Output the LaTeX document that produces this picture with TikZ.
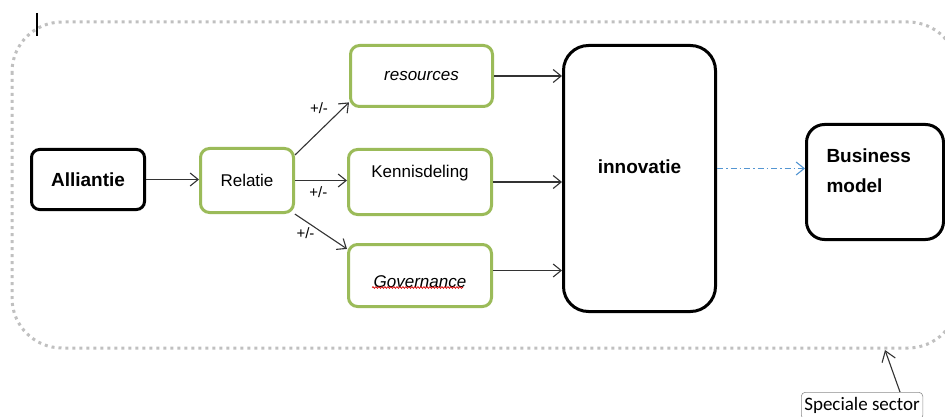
\documentclass[tikz,border=0pt]{standalone}
\usepackage{fontspec}
\setmainfont{Liberation Sans}
\newfontfamily\calibri{Carlito}
\usetikzlibrary{arrows.meta}
\usetikzlibrary{positioning}
\usetikzlibrary{decorations.pathmorphing}

\definecolor{olive}{RGB}{155,187,89}
\definecolor{linkblue}{RGB}{84,150,210}
\definecolor{framegray}{RGB}{192,192,192}

\tikzset {
  box/.style = {
    rectangle,
    inner sep = 0,
    fill = white,
    line width = 3pt
  },
  % light boxes around the alliance factors
  factor/.style = {
    box,
    draw = olive,
    rounded corners = 9pt,
    font = \fontsize{17}{20}\selectfont
  },
  % heavy boxes for the main concepts
  concept/.style = {
    box,
    draw = black,
    font = \fontsize{19}{30}\selectfont\bfseries
  },
  note/.style = {
    draw = black!45,
    line width = 0.6pt,
    rounded corners = 4pt,
    inner xsep = 3pt,
    inner ysep = 3pt,
    text height = 15pt,
    text depth = 6pt,
    anchor = north west,
    font = \fontsize{19}{22}\selectfont\calibri
  }
}
\tikzset {
  % path style with an open arrow head
  link/.style = {
    draw = black!80,
    line width = 1.1pt,
    -{Straight Barb[length=8pt,width=13pt]}
  },
  dashlink/.style = {
    link,
    draw = linkblue,
    dash pattern = on 6pt off 3pt on 1.5pt off 3pt
  },
  sign/.style = {
    font = \fontsize{15}{17}\selectfont
  },
  squiggle/.style = {
    draw = red!85!black,
    line width = 0.7pt,
    decorate,
    decoration = {snake, amplitude = 0.9pt, segment length = 3pt}
  }
}

\begin{document}
\begin{tikzpicture}[x=1pt, y=-1pt]
    \useasboundingbox (0,0) rectangle (945,417);

    % sector frame
    \draw[framegray, line width = 3pt, dash pattern = on 3pt off 4pt,
      rounded corners = 50pt] (12,22) rectangle (958,348);
    \draw[line width = 2.4pt] (37,13) -- (37,36);

    \node[concept, rounded corners = 8pt, minimum width = 113pt,
      minimum height = 60pt] (all) at (88,179.5) {Alliantie};
    \node[factor, minimum width = 93pt, minimum height = 64pt]
      (rel) at (247,180.5) {Relatie};

    \node[factor, minimum width = 142pt, minimum height = 61pt]
      (res) at (421.5,76) {\itshape resources};
    \node[factor, minimum width = 143pt, minimum height = 65pt,
      text height = 13pt, text depth = 21pt] (ken) at (420,182) {Kennisdeling};
    \node[factor, minimum width = 143pt, minimum height = 62pt,
      text height = 27pt, text depth = 4pt] (gov) at (420,275.5) {\itshape Governance};

    \node[concept, rounded corners = 25pt, minimum width = 152pt,
      minimum height = 266pt, text height = 14pt, text depth = 25pt]
      (inn) at (639.5,178.5) {innovatie};
    \node[concept, rounded corners = 18pt, minimum width = 137pt,
      minimum height = 115pt, inner xsep = 20pt, text width = 97pt,
      align = left, text height = 14pt, text depth = 54pt]
      (bm) at (875,182) {Business\\model};

    \node[note] (spec) at (801,392) {Speciale sector};

    % connectors
    \draw[link] (all.east) -- (all.east -| rel.west);
    \draw[link] (rel.28) -- node[sign, pos = 0.5, xshift = -3pt, yshift = 21pt] {+/-} (res.200);
    \draw[link] (rel.east) -- node[sign, pos = 0.45, yshift = -12pt] {+/-} (rel.east -| ken.west);
    \draw[link] (rel.-35) -- node[sign, pos = 0.3, xshift = -5pt, yshift = -9pt] {+/-} (gov.160);

    \draw[link] (res.east) -- (res.east -| inn.west);
    \draw[link] (ken.east) -- (ken.east -| inn.west);
    \draw[link] ([yshift = 5pt]gov.east) -- ([yshift = 5pt]gov.east -| inn.west);
    \draw[dashlink] ([yshift = 10pt]inn.east) -- ([yshift = 10pt]inn.east -| bm.west);

    \draw[squiggle] ([xshift = -48pt, yshift = -12pt]gov.center)
      -- ([xshift = 43pt, yshift = -12pt]gov.center);

    \coordinate (edge) at (885,350);
    \draw[link, -{Straight Barb[length=10pt,width=14pt]}]
      ([xshift = 99pt]spec.north west) -- (edge);
\end{tikzpicture}
\end{document}
